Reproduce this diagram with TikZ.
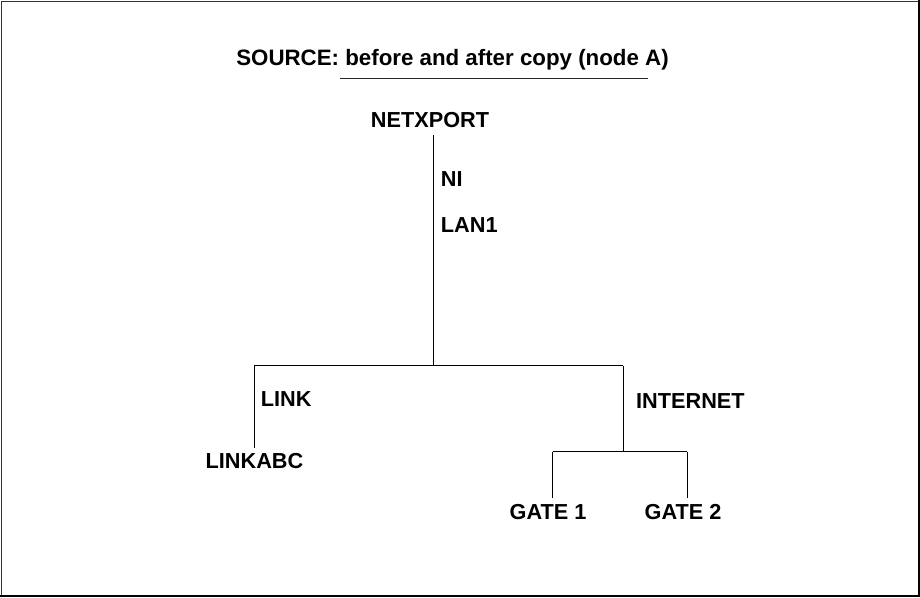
\documentclass[tikz,border=0pt]{standalone}
\usepackage{fontspec}
\setmainfont{Liberation Sans}
\begin{document}
\begin{tikzpicture}[x=1pt,y=1pt,
  lbl/.style={font=\fontsize{21.7}{24}\selectfont\bfseries, inner sep=0pt},
  conn/.style={draw=black, line width=1pt}]
\useasboundingbox (0,0) rectangle (920,-597);
% frame
\draw[line width=1pt, black!80] (1.5,-595) -- (1.5,-1.5) -- (918,-1.5);
\draw[line width=2.5pt, black] (918.75,0) -- (918.75,-595.75) -- (0,-595.75);
% texts
\node[lbl, font=\fontsize{22.3}{25}\selectfont\bfseries, anchor=base] (title) at (452.5,-65) {SOURCE: before and after copy (node A)};
\coordinate (ulA) at (340,-78.3);
\coordinate (ulB) at (648,-78.3);
\draw[line width=1pt, black!85] (ulA) -- (ulB);
\node[lbl, anchor=base] (netxport) at (430,-127) {NETXPORT};
\node[lbl, anchor=base west] (ni) at (440.7,-186) {NI};
\node[lbl, anchor=base west] (lan1) at (440.7,-232) {LAN1};
\node[lbl, anchor=base west] (link) at (260.7,-406) {LINK};
\node[lbl, anchor=base] (linkabc) at (254.5,-468) {LINKABC};
\node[lbl, anchor=base west] (internet) at (636,-408) {INTERNET};
\node[lbl, anchor=base] (gate1) at (548,-519) {GATE 1};
\node[lbl, anchor=base] (gate2) at (683,-519) {GATE 2};
% tree coordinates
\coordinate (top) at (433.3,-135);
\coordinate (j1) at (433.3,-365.7);
\coordinate (jl) at (254.3,-365.7);
\coordinate (jr) at (623.3,-365.7);
\coordinate (le) at (254.3,-448);
\coordinate (j2) at (623.3,-451.7);
\coordinate (g1t) at (552.7,-451.7);
\coordinate (g2t) at (687.3,-451.7);
\coordinate (g1b) at (552.7,-498);
\coordinate (g2b) at (687.3,-498);
% connectors
\draw[conn] (top) -- (j1);
\draw[conn] (jl) -- (jr);
\draw[conn] (jl) -- (le);
\draw[conn] (jr) -- (j2);
\draw[conn] (g1t) -- (g2t);
\draw[conn] (g1t) -- (g1b);
\draw[conn] (g2t) -- (g2b);
\end{tikzpicture}
\end{document}
